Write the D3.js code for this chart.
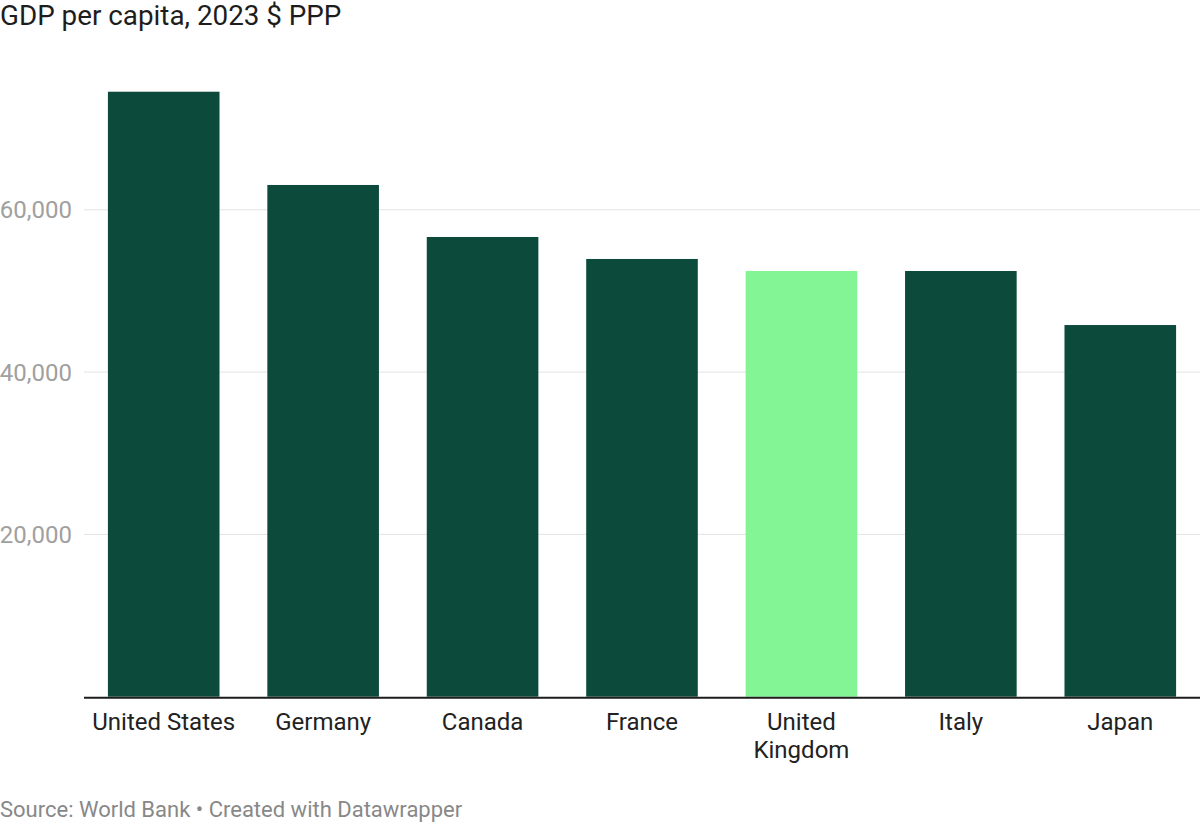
<!DOCTYPE html>
<html>
<head>
<meta charset="utf-8">
<script src="https://cdn.jsdelivr.net/npm/d3@7"></script>
<style>
  html, body { margin: 0; padding: 0; background: #fff; }
  svg { display: block; font-family: Roboto, "Noto Sans", sans-serif; }
</style>
</head>
<body>
<svg id="chart" width="1200" height="830"></svg>
<script>
const countries = ["United States", "Germany", "Canada", "France", "United Kingdom", "Italy", "Japan"];
const gdpValues = [74550, 63060, 56650, 53940, 52460, 52460, 45800];
const highlighted = ["United Kingdom"];
const yTicks = [20000, 40000, 60000];
const titleText = "GDP per capita, 2023 $ PPP";
const sourceText = "Source: World Bank \u2022 Created with Datawrapper";
const labelLines = { "United Kingdom": ["United", "Kingdom"] };

const svg = d3.select("#chart");
const left = 84, right = 1200, zeroY = 696.7;

const x = d3.scaleBand().domain(countries).range([left, right]).paddingInner(0.3).paddingOuter(0.15);
const y = d3.scaleLinear().domain([0, 80000]).range([zeroY, zeroY - 4 * 162.3]);

// title
svg.append("text").attr("x", 0).attr("y", 25)
  .attr("font-size", 27.8).attr("fill", "#1d1d1d").text(titleText);

// gridlines
svg.append("g").selectAll("line").data(yTicks).join("line")
  .attr("x1", left).attr("x2", right)
  .attr("y1", d => y(d)).attr("y2", d => y(d))
  .attr("stroke", "#e3e3e3").attr("stroke-width", 1);

// y labels
svg.append("g").selectAll("text").data(yTicks).join("text")
  .attr("x", 72).attr("y", d => y(d) + 8.5)
  .attr("text-anchor", "end").attr("font-size", 24).attr("fill", "#a0a0a0")
  .text(d => d3.format(",")(d));

// bars
svg.append("g").selectAll("rect").data(countries).join("rect")
  .attr("x", d => x(d)).attr("width", x.bandwidth())
  .attr("y", (d, i) => y(gdpValues[i]))
  .attr("height", (d, i) => y(0) - y(gdpValues[i]))
  .attr("fill", d => highlighted.includes(d) ? "#84f595" : "#0c4a3b");

// axis line
svg.append("line").attr("x1", left).attr("x2", right)
  .attr("y1", zeroY + 1).attr("y2", zeroY + 1)
  .attr("stroke", "#1d1d1d").attr("stroke-width", 2);

// x labels
const xl = svg.append("g").selectAll("text").data(countries).join("text")
  .attr("x", d => x(d) + x.bandwidth() / 2).attr("y", 730)
  .attr("text-anchor", "middle").attr("font-size", 24).attr("fill", "#222");
xl.each(function(d) {
  const lines = labelLines[d] || [d];
  d3.select(this).selectAll("tspan").data(lines).join("tspan")
    .attr("x", x(d) + x.bandwidth() / 2)
    .attr("dy", (l, i) => i === 0 ? 0 : 28)
    .text(l => l);
});

// source
svg.append("text").attr("x", 0).attr("y", 817)
  .attr("font-size", 22).attr("fill", "#888").text(sourceText);
</script>
</body>
</html>
